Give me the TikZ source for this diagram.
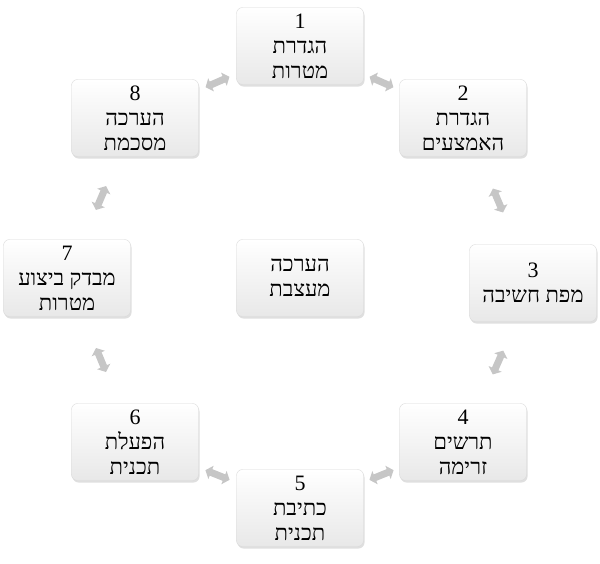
\documentclass[tikz,border=0pt]{standalone}
\usepackage{fontspec}
\setmainfont{Liberation Serif}
\newfontfamily\hebfont[Script=Hebrew]{Liberation Serif}
\TeXXeTstate=1
\usetikzlibrary{calc,shadows,arrows.meta}
\newcommand{\heb}[1]{{\hebfont\beginR #1\endR}}
\tikzset{
    stage/.style={draw=gray!30, rounded corners=6pt, minimum width=127pt, minimum height=77pt,
        top color=white, bottom color=gray!18, drop shadow={opacity=0.25, shadow xshift=1pt, shadow yshift=-2pt},
        align=center, font=\fontsize{22}{25}\selectfont, inner sep=1pt},
    cycle/.style={line width=7pt, draw=gray!45, {Triangle[width=14pt,length=6pt]}-{Triangle[width=14pt,length=6pt]}}
}
\begin{document}
\begin{tikzpicture}[x=1pt,y=-1pt]
    \useasboundingbox (0,0) rectangle (600,563);
    % stages of the cycle
    \node[stage] (s1) at (300,46)  {1\\\heb{הגדרת}\\\heb{מטרות}};
    \node[stage] (s2) at (463,118) {2\\\heb{הגדרת}\\\heb{האמצעים}};
    \node[stage] (s3) at (533,283) {3\\\heb{מפת חשיבה}};
    \node[stage] (s4) at (463,442) {4\\\heb{תרשים}\\\heb{זרימה}};
    \node[stage] (s5) at (300,508) {5\\\heb{כתיבת}\\\heb{תכנית}};
    \node[stage] (s6) at (135,442) {6\\\heb{הפעלת}\\\heb{תכנית}};
    \node[stage] (s7) at (67,278)  {7\\\heb{מבדק ביצוע}\\\heb{מטרות}};
    \node[stage] (s8) at (135,118) {8\\\heb{הערכה}\\\heb{מסכמת}};
    % center
    \node[stage] (eval) at (300,278) {\heb{הערכה}\\\heb{מעצבת}};

    % links
    \foreach \a/\b in {s1/s2,s2/s3,s3/s4,s4/s5,s5/s6,s6/s7,s7/s8,s8/s1} {
        \coordinate (m) at ($(\a)!0.5!(\b)$);
        \draw[cycle] ($(m)!13pt!(\a)$) -- ($(m)!13pt!(\b)$);
    }
\end{tikzpicture}
\end{document}
